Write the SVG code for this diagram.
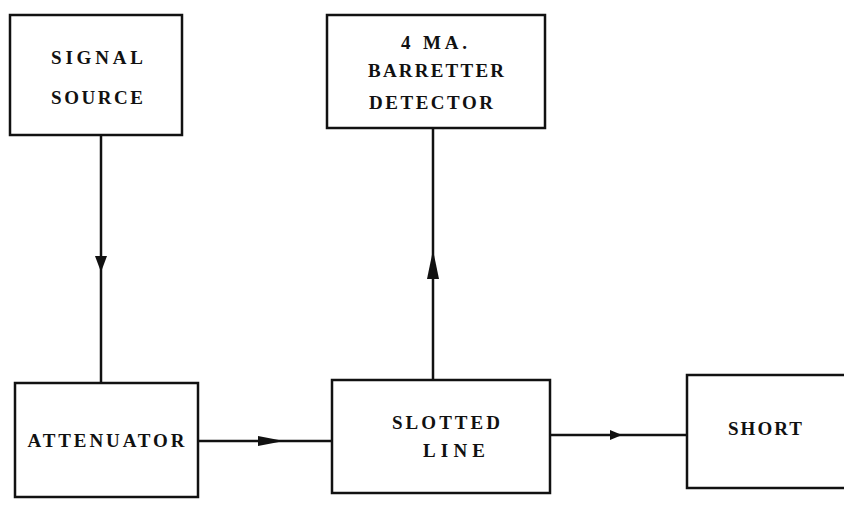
<svg xmlns="http://www.w3.org/2000/svg" width="844" height="507" viewBox="0 0 844 507">
<style>
.box{fill:#fff;stroke:#111;stroke-width:2.5}
.t{font-family:"Liberation Serif",serif;font-weight:bold;font-size:19px;fill:#111;text-anchor:middle;dominant-baseline:central}
.c{stroke:#111;stroke-width:2.5;fill:none}
.ah{fill:#111}
</style>
<rect width="844" height="507" fill="#fff"/>
<g id="connectors">
<line class="c" x1="101" y1="135" x2="101" y2="383"/>
<polygon class="ah" points="95,256 107,256 101,272"/>
<line class="c" x1="433" y1="128" x2="433" y2="380"/>
<polygon class="ah" points="427,279 439,279 433,250"/>
<line class="c" x1="198" y1="441" x2="332" y2="441"/>
<polygon class="ah" points="258,436 258,446 284,441"/>
<line class="c" x1="550" y1="435" x2="687" y2="435"/>
<polygon class="ah" points="610,430 610,440 622,435"/>
</g>
<g id="signal-source">
<rect class="box" x="10" y="15" width="172" height="120"/>
<text class="t" x="97" y="57" textLength="92" lengthAdjust="spacing">SIGNAL</text>
<text class="t" x="97" y="97" textLength="92" lengthAdjust="spacing">SOURCE</text>
</g>
<g id="barretter-detector">
<rect class="box" x="327" y="15" width="218" height="113"/>
<text class="t" x="434" y="42" textLength="66" lengthAdjust="spacing">4 MA.</text>
<text class="t" x="436" y="70" textLength="136" lengthAdjust="spacing">BARRETTER</text>
<text class="t" x="431" y="102" textLength="124" lengthAdjust="spacing">DETECTOR</text>
</g>
<g id="attenuator">
<rect class="box" x="15" y="383" width="183" height="114"/>
<text class="t" x="106" y="440" textLength="157" lengthAdjust="spacing">ATTENUATOR</text>
</g>
<g id="slotted-line">
<rect class="box" x="332" y="380" width="218" height="113"/>
<text class="t" x="446" y="422" textLength="108" lengthAdjust="spacing">SLOTTED</text>
<text class="t" x="454" y="450" textLength="62" lengthAdjust="spacing">LINE</text>
</g>
<g id="short">
<rect class="box" x="687" y="375" width="160" height="113"/>
<text class="t" x="765" y="428" textLength="74" lengthAdjust="spacing">SHORT</text>
</g>
</svg>
